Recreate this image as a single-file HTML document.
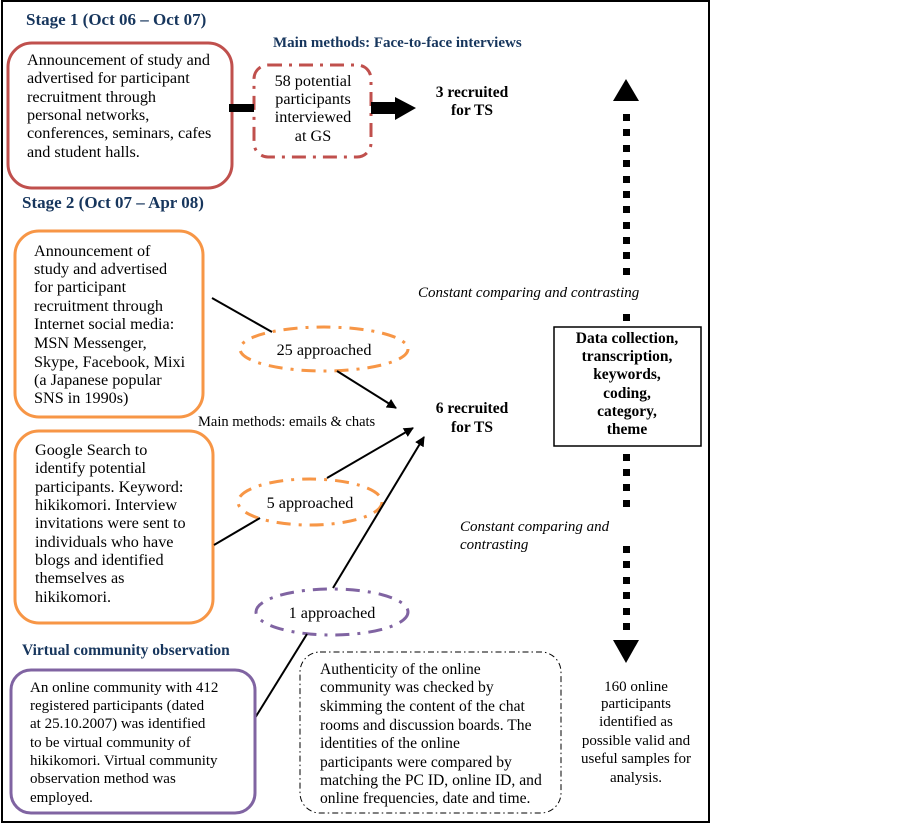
<!DOCTYPE html>
<html><head><meta charset="utf-8"><style>
html,body{margin:0;padding:0;background:#fff}
svg{display:block}
text{font-family:"Liberation Serif",serif;font-size:16.2px;fill:#000}
.t{font-weight:bold;fill:#17365d;font-size:17px}
.b{font-weight:bold;font-size:15.5px}
.i{font-style:italic;font-size:15px}
.c{text-anchor:middle}
</style></head><body>
<svg width="901" height="824" viewBox="0 0 901 824" xmlns="http://www.w3.org/2000/svg">
<defs><marker id="ah" markerWidth="10" markerHeight="10" refX="9" refY="5" orient="auto" markerUnits="userSpaceOnUse"><path d="M0,0 L10,5 L0,10 z" fill="#000"/></marker></defs>
<rect x="2" y="1" width="707" height="821" fill="none" stroke="#000" stroke-width="2"/>

<text class="t" x="26" y="25">Stage 1 (Oct 06 – Oct 07)</text>
<rect x="8" y="43" width="224" height="145" rx="24" fill="none" stroke="#c0504d" stroke-width="3"/>
<text x="27" y="65">Announcement of study and</text>
<text x="27" y="83">advertised for participant</text>
<text x="27" y="102">recruitment through</text>
<text x="27" y="120">personal networks,</text>
<text x="27" y="138">conferences, seminars, cafes</text>
<text x="27" y="157">and student halls.</text>

<text class="t" x="273" y="47" style="font-size:15px">Main methods: Face-to-face interviews</text>
<rect x="254" y="65" width="117" height="92" rx="14" fill="none" stroke="#c0504d" stroke-width="3" stroke-dasharray="14,7,3,7"/>
<text class="c" x="313" y="86">58 potential</text>
<text class="c" x="313" y="104">participants</text>
<text class="c" x="313" y="122">interviewed</text>
<text class="c" x="313" y="141">at GS</text>
<rect x="229" y="104" width="25" height="8" fill="#000"/>
<rect x="371" y="102" width="25" height="12" fill="#000"/>
<path d="M395,97 L416,108 L395,120 z" fill="#000"/>
<text class="b c" x="472" y="97">3 recruited</text>
<text class="b c" x="472" y="115">for TS</text>

<text class="t" x="22" y="208">Stage 2 (Oct 07 – Apr 08)</text>
<rect x="15" y="231" width="188" height="186" rx="24" fill="none" stroke="#f79646" stroke-width="3"/>
<text x="34" y="256">Announcement of</text>
<text x="34" y="274">study and advertised</text>
<text x="34" y="292">for participant</text>
<text x="34" y="311">recruitment through</text>
<text x="34" y="329">Internet social media:</text>
<text x="34" y="348">MSN Messenger,</text>
<text x="34" y="367">Skype, Facebook, Mixi</text>
<text x="34" y="385">(a Japanese popular</text>
<text x="34" y="403">SNS in 1990s)</text>

<rect x="15" y="431" width="198" height="192" rx="24" fill="none" stroke="#f79646" stroke-width="3"/>
<text x="35" y="455">Google Search to</text>
<text x="35" y="473">identify potential</text>
<text x="35" y="492">participants. Keyword:</text>
<text x="35" y="510">hikikomori.  Interview</text>
<text x="35" y="528">invitations were sent to</text>
<text x="35" y="547">individuals who have</text>
<text x="35" y="565">blogs and identified</text>
<text x="35" y="583">themselves as</text>
<text x="35" y="602">hikikomori.</text>

<text x="198" y="426" style="font-size:14.5px">Main methods: emails &amp; chats</text>

<ellipse cx="324" cy="349" rx="84" ry="22" fill="none" stroke="#f79646" stroke-width="3" stroke-dasharray="14,8,3,8"/>
<text class="c" x="324" y="355">25 approached</text>
<ellipse cx="310" cy="502" rx="72" ry="23" fill="none" stroke="#f79646" stroke-width="3" stroke-dasharray="14,8,3,8"/>
<text class="c" x="310" y="508">5 approached</text>
<ellipse cx="332" cy="612" rx="76" ry="23" fill="none" stroke="#8064a2" stroke-width="3" stroke-dasharray="14,8,3,8"/>
<text class="c" x="332" y="618">1 approached</text>

<line x1="212" y1="298" x2="272" y2="332" stroke="#000" stroke-width="2"/>
<line x1="337" y1="371" x2="396" y2="408" stroke="#000" stroke-width="2" marker-end="url(#ah)"/>
<line x1="214" y1="545" x2="260" y2="518" stroke="#000" stroke-width="2"/>
<line x1="327" y1="478" x2="413" y2="428" stroke="#000" stroke-width="2" marker-end="url(#ah)"/>
<line x1="333" y1="588" x2="424" y2="437" stroke="#000" stroke-width="2" marker-end="url(#ah)"/>
<line x1="307" y1="634" x2="255" y2="718" stroke="#000" stroke-width="2"/>

<text class="b c" x="472" y="413">6 recruited</text>
<text class="b c" x="472" y="432">for TS</text>

<path d="M626,79 L613,101 L639,101 z" fill="#000"/>
<g fill="#000">
<rect x="623" y="114" width="7" height="7"/><rect x="623" y="129" width="7" height="7"/><rect x="623" y="145" width="7" height="7"/><rect x="623" y="160" width="7" height="7"/><rect x="623" y="176" width="7" height="7"/><rect x="623" y="191" width="7" height="7"/><rect x="623" y="206" width="7" height="7"/><rect x="623" y="222" width="7" height="7"/><rect x="623" y="237" width="7" height="7"/><rect x="623" y="252" width="7" height="7"/><rect x="623" y="268" width="7" height="7"/>
<rect x="623" y="314" width="7" height="7"/>
<rect x="623" y="454" width="7" height="7"/><rect x="623" y="469" width="7" height="7"/><rect x="623" y="484" width="7" height="7"/><rect x="623" y="500" width="7" height="7"/>
<rect x="623" y="546" width="7" height="7"/><rect x="623" y="561" width="7" height="7"/><rect x="623" y="577" width="7" height="7"/><rect x="623" y="592" width="7" height="7"/><rect x="623" y="608" width="7" height="7"/><rect x="623" y="623" width="7" height="7"/>
</g>
<path d="M613,640 L639,640 L626,663 z" fill="#000"/>
<text class="i" x="418" y="297">Constant comparing and contrasting</text>
<text class="i" x="460" y="531">Constant comparing and</text>
<text class="i" x="460" y="549">contrasting</text>

<rect x="554" y="327" width="147" height="119" fill="#fff" stroke="#000" stroke-width="1.5"/>
<text class="b c" x="627" y="343">Data collection,</text>
<text class="b c" x="627" y="361">transcription,</text>
<text class="b c" x="627" y="379">keywords,</text>
<text class="b c" x="627" y="398">coding,</text>
<text class="b c" x="627" y="416">category,</text>
<text class="b c" x="627" y="434">theme</text>

<text class="t" x="22" y="655" style="font-size:15.5px">Virtual community observation</text>
<rect x="11" y="670" width="244" height="143" rx="20" fill="none" stroke="#8064a2" stroke-width="3"/>
<text x="30" y="692" style="font-size:15px">An online community with 412</text>
<text x="30" y="710" style="font-size:15px">registered participants (dated</text>
<text x="30" y="728" style="font-size:15px">at 25.10.2007) was identified</text>
<text x="30" y="747" style="font-size:15px">to be virtual community of</text>
<text x="30" y="765" style="font-size:15px">hikikomori. Virtual community</text>
<text x="30" y="783" style="font-size:15px">observation method was</text>
<text x="30" y="802" style="font-size:15px">employed.</text>

<rect x="300" y="652" width="261" height="161" rx="20" fill="none" stroke="#000" stroke-width="1" stroke-dasharray="6,3,1.5,3"/>
<text x="320" y="674" style="font-size:15.6px">Authenticity of the online</text>
<text x="320" y="692" style="font-size:15.6px">community was checked by</text>
<text x="320" y="711" style="font-size:15.6px">skimming the content of the chat</text>
<text x="320" y="730" style="font-size:15.6px">rooms and discussion  boards. The</text>
<text x="320" y="748" style="font-size:15.6px">identities of the online</text>
<text x="320" y="767" style="font-size:15.6px">participants were compared by</text>
<text x="320" y="785" style="font-size:15.6px">matching the PC ID, online ID, and</text>
<text x="320" y="803" style="font-size:15.6px">online frequencies, date and time.</text>

<text class="c" x="636" y="691" style="font-size:15px">160 online</text>
<text class="c" x="636" y="708" style="font-size:15px">participants</text>
<text class="c" x="636" y="726" style="font-size:15px">identified as</text>
<text class="c" x="636" y="745" style="font-size:15px">possible valid and</text>
<text class="c" x="636" y="763" style="font-size:15px">useful samples for</text>
<text class="c" x="636" y="782" style="font-size:15px">analysis.</text>
</svg>
</body></html>
